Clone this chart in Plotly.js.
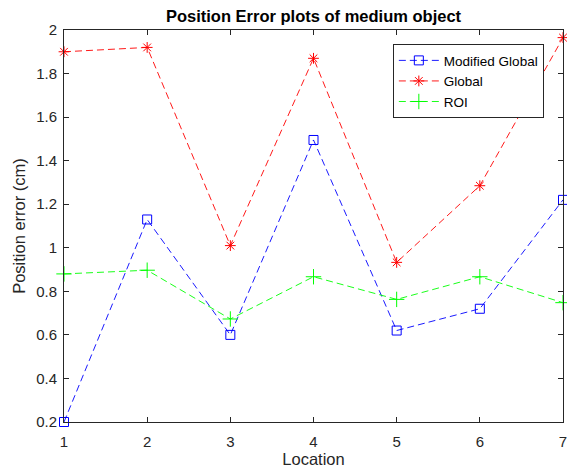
<!DOCTYPE html>
<html>
<head>
<meta charset="utf-8">
<script src="https://cdn.plot.ly/plotly-3.0.1.min.js"></script>
<style>html,body{margin:0;padding:0;background:#fff;}#chart{width:567px;height:470px;}</style>
</head>
<body>
<div id="chart"></div>
<script>
const locations = [1, 2, 3, 4, 5, 6, 7];
const modifiedGlobal = [0.20, 1.13, 0.60, 1.495, 0.62, 0.72, 1.22];
const globalErr = [1.90, 1.92, 1.01, 1.87, 0.933, 1.285, 1.965];
const roi = [0.88, 0.897, 0.673, 0.867, 0.763, 0.867, 0.748];
const seriesNames = ['Modified Global', 'Global', 'ROI'];

const FONT = 'Liberation Sans, Arial, sans-serif';
function mk(y, name, color, symbol, size) {
  return {
    x: locations, y: y, name: name, type: 'scatter', mode: 'lines+markers',
    line: {color: color, width: 0.9, dash: '7px,4px'},
    marker: {symbol: symbol, size: size, color: color, line: {color: color, width: 1}},
    cliponaxis: false
  };
}
const data = [
  mk(modifiedGlobal, seriesNames[0], '#0000ff', 'square-open', 9),
  mk(globalErr, seriesNames[1], '#ff0000', 'asterisk-open', 9),
  mk(roi, seriesNames[2], '#00ff00', 'cross-thin-open', 11)
];
const axisCommon = {
  showgrid: false, zeroline: false, showline: true, linecolor: '#262626', linewidth: 1,
  mirror: 'ticks', ticks: 'inside', ticklen: 5, tickcolor: '#262626',
  tickfont: {family: FONT, size: 15, color: '#262626'}, automargin: false,
  ticklabeloverflow: 'allow'
};
const layout = {
  width: 567, height: 470,
  margin: {l: 64, r: 4, t: 30, b: 48},
  paper_bgcolor: '#fff', plot_bgcolor: '#fff',
  font: {family: FONT, color: '#262626'},
  title: {text: '<b>Position Error plots of medium object</b>', font: {family: FONT, size: 16.5, color: '#000'},
          x: 0.5, xref: 'paper', y: 0.966, yref: 'container', yanchor: 'middle'},
  xaxis: Object.assign({}, axisCommon, {range: [1, 7], tickvals: locations, ticklabelstandoff: 6,
          title: {text: 'Location', font: {family: FONT, size: 16.5, color: '#262626'}, standoff: 2}}),
  yaxis: Object.assign({}, axisCommon, {range: [0.2, 2], dtick: 0.2, tick0: 0.2, ticklabelstandoff: 3,
          title: {text: 'Position error (cm)', font: {family: FONT, size: 16.5, color: '#262626'}, standoff: 6}}),
  legend: {x: 0.659, y: 0.964, xanchor: 'left', yanchor: 'top', bgcolor: '#fff',
           bordercolor: '#262626', borderwidth: 1, font: {family: FONT, size: 13.5, color: '#000'},
           tracegroupgap: 0, itemwidth: 40},
  showlegend: true
};
Plotly.newPlot('chart', data, layout, {staticPlot: true, displayModeBar: false});
</script>
</body>
</html>
